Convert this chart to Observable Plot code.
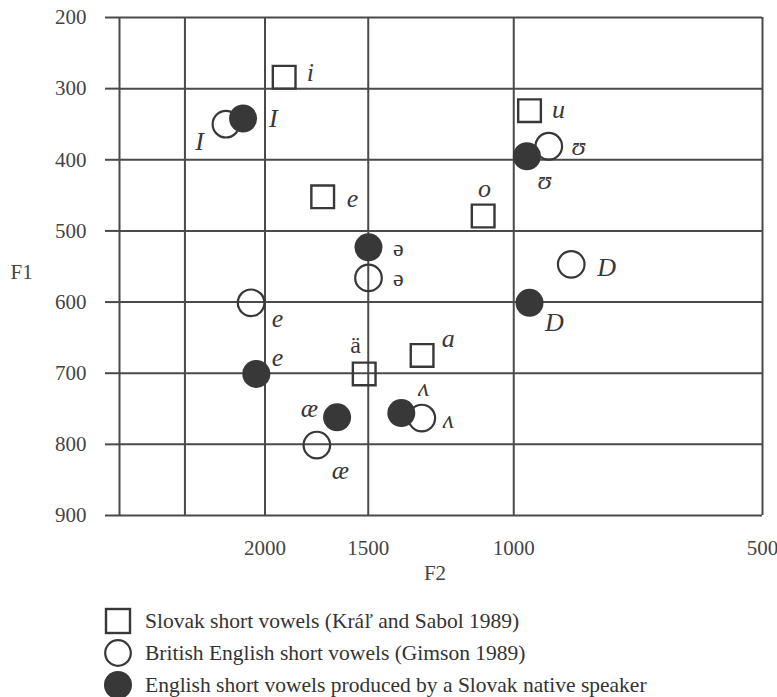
<!DOCTYPE html>
<html><head><meta charset="utf-8">
<script src="https://cdn.jsdelivr.net/npm/d3@7"></script>
<script src="https://cdn.jsdelivr.net/npm/@observablehq/plot@0.6"></script>
<style>
body{margin:0;background:#fff;font-family:"Liberation Serif",serif;}
#chart svg text{font-family:"Liberation Serif","Times New Roman",serif;}
#chart svg text.sans{font-family:"DejaVu Sans",sans-serif;}
#legend{margin-top:8px;}
.row{height:32px;display:flex;align-items:center;font-size:21.5px;color:#333;}
.row svg{margin-left:104px;margin-right:13px;flex:none;}
</style></head><body>
<div id="chart"></div>
<div id="legend"></div>
<script>
const seriesNames = [
  "Slovak short vowels (Kráľ and Sabol 1989)",
  "British English short vowels (Gimson 1989)",
  "English short vowels produced by a Slovak native speaker"
];

// Slovak short vowels (squares)
const slovakVowels = ["i", "e", "u", "o", "ä", "a"];
const slovakF2 = [1896, 1703, 957, 1089, 1517, 1291];
const slovakF1 = [284, 452, 331, 479, 701, 675];
const slovakLabelF2 = [1762, 1567, 883, 1085, 1554, 1200];
const slovakLabelF1 = [277, 454, 329, 440, 661, 651];

// British English short vowels (open circles)
const britishVowels = ["I", "ʊ", "ə", "D", "e", "ʌ", "æ"];
const britishF2 = [2230, 907, 1499, 852, 2079, 1292, 1731];
const britishF1 = [350, 381, 566, 547, 601, 763, 801];
const britishLabelF2 = [2400, 835, 1379, 772, 1932, 1200, 1621];
const britishLabelF1 = [375, 381, 567, 551, 623, 766, 837];

// English vowels produced by a Slovak native speaker (filled circles)
const speakerVowels = ["I", "ʊ", "ə", "D", "e", "ʌ", "æ"];
const speakerF2 = [2126, 964, 1499, 957, 2049, 1368, 1636];
const speakerF1 = [342, 395, 523, 601, 701, 756, 762];
const speakerLabelF2 = [1954, 918, 1379, 893, 1932, 1286, 1767];
const speakerLabelF1 = [342, 429, 524, 629, 678, 721, 750];

const gridF2 = [3000, 2500, 2000, 1500, 1000, 500];
const tickF2 = [2000, 1500, 1000, 500];
const tickF1 = [200, 300, 400, 500, 600, 700, 800, 900];

const rows = (v, f2, f1, lf2, lf1) => v.map((d, i) => ({vowel: d, F2: f2[i], F1: f1[i], lF2: lf2[i], lF1: lf1[i]}));
const slovak = rows(slovakVowels, slovakF2, slovakF1, slovakLabelF2, slovakLabelF1);
const british = rows(britishVowels, britishF2, britishF1, britishLabelF2, britishLabelF1);
const speaker = rows(speakerVowels, speakerF2, speakerF1, speakerLabelF2, speakerLabelF1);
const allLabels = [...slovak, ...british, ...speaker];
const upright = d => d.vowel === "ə" || d.vowel === "ä";

const ink = "#383838";
const grid = "#4a4a4a";
const serif = "Liberation Serif, Times New Roman, serif";

const chart = Plot.plot({
  width: 777, height: 597,
  marginLeft: 119, marginRight: 15, marginTop: 17, marginBottom: 82,
  style: {fontSize: "21px", color: "#444", background: "#fff", overflow: "visible"},
  x: {type: "log", domain: [3000, 500]},
  y: {domain: [200, 900], reverse: true},
  marks: [
    Plot.ruleX(gridF2, {stroke: grid, strokeWidth: 2}),
    Plot.ruleY(tickF1, {stroke: grid, strokeWidth: 2}),
    Plot.axisY(tickF1, {tickSize: 14, tickPadding: 19, stroke: grid, strokeWidth: 2, label: null, fill: "#444", fontFamily: serif, fontSize: 21, tickFormat: d3.format("d")}),
    Plot.axisX(tickF2, {tickSize: 0, tickPadding: 25, label: null, fill: "#444", fontFamily: serif, fontSize: 21, tickFormat: d3.format("d")}),
    Plot.text(["F1"], {text: d => d, frameAnchor: "left", dx: -109, dy: 6, textAnchor: "start", fontSize: 21, fill: "#444", fontFamily: serif}),
    Plot.text(["F2"], {text: d => d, frameAnchor: "bottom", dx: -6, dy: 64, fontSize: 21, fill: "#444", fontFamily: serif}),
    Plot.dot(slovak, {x: "F2", y: "F1", symbol: "square", r: 12.8, stroke: ink, strokeWidth: 2.4, fill: "none"}),
    Plot.dot(british, {x: "F2", y: "F1", symbol: "circle", r: 13.3, stroke: ink, strokeWidth: 2.2, fill: "none"}),
    Plot.dot(speaker, {x: "F2", y: "F1", symbol: "circle", r: 14, fill: ink, stroke: "none"}),
    Plot.text(allLabels.filter(d => !upright(d)), {x: "lF2", y: "lF1", text: "vowel", fontStyle: "italic", fontSize: 26, fill: ink, fontFamily: serif}),
    Plot.text(allLabels.filter(upright), {x: "lF2", y: "lF1", text: "vowel", fontSize: 24, fill: ink, fontFamily: "DejaVu Sans, sans-serif", className: "sans"})
  ]
});
document.getElementById("chart").appendChild(chart);

const markers = [
  '<rect x="2" y="2" width="24" height="24" fill="none" stroke="' + ink + '" stroke-width="2.4"/>',
  '<circle cx="14" cy="14" r="12.8" fill="none" stroke="' + ink + '" stroke-width="2.2"/>',
  '<circle cx="14" cy="14" r="14" fill="' + ink + '"/>'
];
const legend = document.getElementById("legend");
seriesNames.forEach((name, i) => {
  const row = document.createElement("div");
  row.className = "row";
  row.innerHTML = '<svg width="28" height="28" viewBox="0 0 28 28">' + markers[i] + '</svg><span></span>';
  row.querySelector("span").textContent = name;
  legend.appendChild(row);
});
</script>
</body></html>
